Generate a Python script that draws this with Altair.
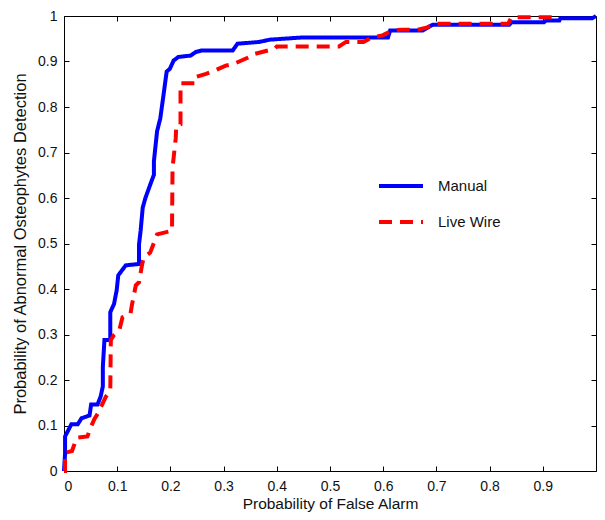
import altair as alt
import pandas as pd

manual_x = [0.0, 0.002, 0.002, 0.014, 0.026, 0.033, 0.048, 0.051, 0.063, 0.069, 0.073, 0.073, 0.076, 0.087, 0.087,
            0.094, 0.099, 0.102, 0.116, 0.141, 0.141, 0.144, 0.148, 0.153, 0.162, 0.169, 0.169, 0.175, 0.181, 0.187,
            0.193, 0.199, 0.206, 0.215, 0.238, 0.248, 0.258, 0.317, 0.326, 0.367, 0.387, 0.450, 0.609, 0.613, 0.674,
            0.693, 0.837, 0.841, 0.902, 0.906, 0.931, 0.933, 0.993, 1.0]
manual_y = [0.0, 0.039, 0.076, 0.103, 0.103, 0.116, 0.122, 0.146, 0.146, 0.164, 0.186, 0.229, 0.288, 0.288, 0.349,
            0.367, 0.397, 0.430, 0.452, 0.455, 0.498, 0.528, 0.579, 0.600, 0.629, 0.651, 0.681, 0.747, 0.775, 0.826,
            0.878, 0.884, 0.902, 0.910, 0.913, 0.921, 0.924, 0.924, 0.939, 0.943, 0.948, 0.953, 0.953, 0.968, 0.968,
            0.981, 0.981, 0.986, 0.986, 0.990, 0.990, 0.995, 0.995, 1.0]

live_x = [0.0, 0.002, 0.002, 0.015, 0.024, 0.044, 0.051, 0.057, 0.064, 0.070, 0.079, 0.087, 0.088, 0.094, 0.104,
          0.110, 0.125, 0.128, 0.135, 0.141, 0.147, 0.150, 0.162, 0.175, 0.203, 0.204, 0.210, 0.211, 0.219, 0.219,
          0.246, 0.248, 0.267, 0.285, 0.304, 0.320, 0.341, 0.354, 0.359, 0.396, 0.400, 0.517, 0.530, 0.563, 0.579,
          0.598, 0.616, 0.635, 0.665, 0.683, 0.696, 0.835, 0.841, 0.924]
live_y = [0.0, 0.0, 0.040, 0.044, 0.073, 0.076, 0.098, 0.114, 0.127, 0.142, 0.164, 0.175, 0.288, 0.299, 0.310,
          0.338, 0.346, 0.367, 0.408, 0.415, 0.455, 0.469, 0.480, 0.520, 0.528, 0.666, 0.731, 0.758, 0.762, 0.852,
          0.852, 0.866, 0.873, 0.881, 0.891, 0.895, 0.906, 0.913, 0.917, 0.928, 0.933, 0.933, 0.943, 0.943, 0.953,
          0.957, 0.968, 0.970, 0.970, 0.975, 0.983, 0.983, 0.997, 0.997]

series_names = ["Manual", "Live Wire"]
series_colors = ["#0000ff", "#ff0000"]
x_ticks = [0, 0.1, 0.2, 0.3, 0.4, 0.5, 0.6, 0.7, 0.8, 0.9]
y_ticks = [0, 0.1, 0.2, 0.3, 0.4, 0.5, 0.6, 0.7, 0.8, 0.9, 1]

rows = []
for i, (a, b) in enumerate(zip(manual_x, manual_y)):
    rows.append({"series": "Manual", "fpr": a, "tpr": b, "ord": i})
for i, (a, b) in enumerate(zip(live_x, live_y)):
    rows.append({"series": "Live Wire", "fpr": a, "tpr": b, "ord": i})
df = pd.DataFrame(rows)

FONT = "Liberation Sans"

xscale = alt.Scale(domain=[0, 1], nice=False, zero=False)
yscale = alt.Scale(domain=[0, 1], nice=False, zero=False)

color = alt.Color("series:N", scale=alt.Scale(domain=series_names, range=series_colors),
                  legend=alt.Legend(title=None, orient="none", legendX=313, legendY=146,
                                    symbolType="stroke", symbolSize=1936, symbolStrokeWidth=4,
                                    labelFont=FONT, labelFontSize=15, labelColor="#111111",
                                    labelOffset=13, rowPadding=4))
dash = alt.StrokeDash("series:N", scale=alt.Scale(domain=series_names, range=[[1, 0], [13, 8]]),
                      legend=None)

axis_common = dict(domain=False, grid=False, tickSize=5, offset=-5, tickColor="black",
                   labelFont=FONT, labelFontSize=14, labelColor="#111111",
                   titleFont=FONT, titleFontWeight="normal", titleColor="#111111")

base = alt.Chart(df)

manual = base.transform_filter(alt.datum.series == "Manual").mark_line(strokeWidth=4, strokeCap="butt").encode(
    x=alt.X("fpr:Q", scale=xscale, axis=alt.Axis(orient="top", values=x_ticks, labels=False, title=None,
                                                 domain=False, grid=False, tickSize=5, offset=-5, tickColor="black")),
    y=alt.Y("tpr:Q", scale=yscale, axis=alt.Axis(orient="right", values=y_ticks, labels=False, title=None,
                                                 domain=False, grid=False, tickSize=5, offset=-5, tickColor="black")),
    color=color, strokeDash=dash, order="ord:Q")

live = base.transform_filter(alt.datum.series == "Live Wire").mark_line(strokeWidth=4, strokeCap="butt").encode(
    x=alt.X("fpr:Q", scale=xscale, axis=alt.Axis(orient="bottom", values=x_ticks, format="~g",
                                                 title="Probability of False Alarm", labelPadding=8,
                                                 titleFontSize=15.5, titlePadding=3, **axis_common)),
    y=alt.Y("tpr:Q", scale=yscale, axis=alt.Axis(orient="left", values=y_ticks, format="~g",
                                                 title="Probability of Abnormal Osteophytes Detection",
                                                 labelPadding=7, titleFontSize=16.5, titlePadding=9,
                                                 **axis_common)),
    color=color, strokeDash=dash, order="ord:Q")

chart = alt.layer(manual, live).resolve_axis(x="independent", y="independent").properties(
    width=532, height=455,
    autosize=alt.AutoSizeParams(type="none"),
    padding={"left": 56, "top": 8, "right": 1, "bottom": 41},
    background="white",
).configure_view(stroke="black", strokeWidth=1)

chart.save("out.html", embed_options={"renderer": "svg", "actions": False})
